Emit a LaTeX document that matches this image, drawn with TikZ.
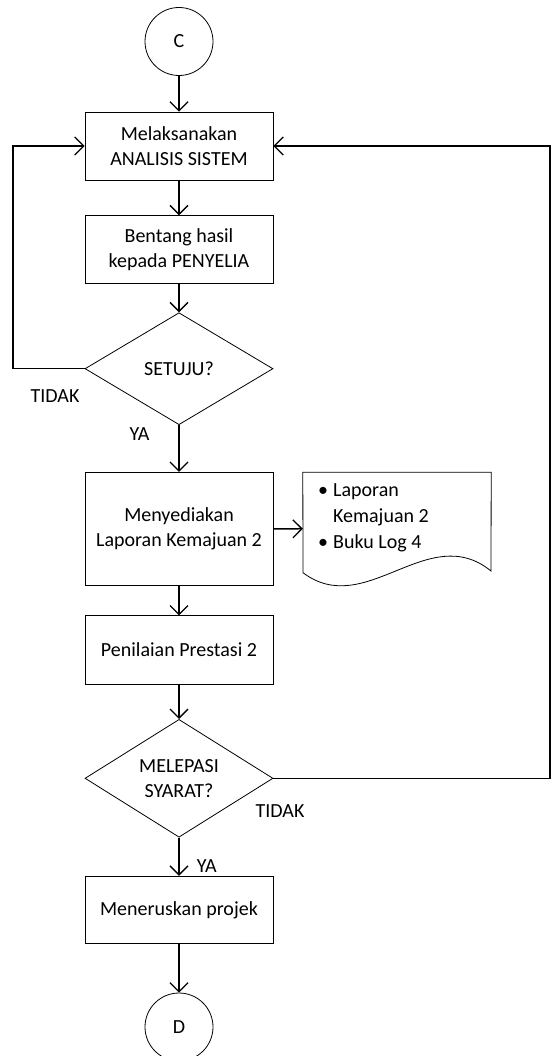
\documentclass[tikz,border=0pt]{standalone}
\usepackage{fontspec}
\setmainfont{Carlito}
\usetikzlibrary{shapes.geometric,arrows.meta}
\tikzset{
  base/.style={font=\fontsize{20pt}{25pt}\selectfont, text=black},
  proc/.style={base, draw=black, line width=0.8pt, rectangle, minimum width=188pt, align=center, inner sep=0pt},
  decide/.style={base, draw=black, line width=0.8pt, diamond, minimum width=188pt, minimum height=112pt, align=center, inner sep=0pt},
  conn/.style={base, draw=black, line width=0.8pt, circle, minimum size=68pt, inner sep=0pt},
  lbl/.style={base, inner sep=0pt},
  flow/.style={draw=black, line width=1.5pt, -{Straight Barb[length=9pt,width=18pt,line width=1.3pt]}},
  plain/.style={draw=black, line width=1.5pt}
}
\begin{document}
\begin{tikzpicture}[x=1pt,y=-1pt]
\useasboundingbox (0,0) rectangle (551,1056);
\clip (0,0) rectangle (551,1056);
% nodes
\node[conn] (c) at (179,41.5) {C};
\node[proc, minimum height=68pt] (b1) at (179,146) {Melaksanakan\\ANALISIS SISTEM};
\node[proc, minimum height=68pt] (b2) at (179,249.7) {Bentang hasil\\kepada PENYELIA};
\node[decide] (d1) at (179,368.7) {SETUJU?};
\node[proc, minimum height=113.4pt] (b3) at (179,529) {Menyediakan\\Laporan Kemajuan 2};
\node[minimum width=188pt, minimum height=112.7pt, inner sep=0pt] (doc) at (397,528.7) {};
\node[proc, minimum height=68.3pt] (b4) at (179,650) {Penilaian Prestasi 2};
\node[decide] (d2) at (179,778.3) {MELEPASI\\SYARAT?};
\node[proc, minimum height=67.7pt] (b5) at (179,910) {Meneruskan projek};
\node[conn] (dd) at (179,1027) {D};
% document shape
\draw[black, line width=0.8pt] (doc.north west) -- (doc.north east) -- (491,571)
  .. controls (428.3,520) and (365.7,620) .. (303,572.7) -- cycle;
\node[base, font=\fontsize{20pt}{26pt}\selectfont, anchor=north west, inner sep=0pt] (doctext) at (318,478)
  {\begin{tabular}{@{}l@{\hspace{5pt}}l@{}}\textbullet & Laporan\\ & Kemajuan 2\\ \textbullet & Buku Log 4\end{tabular}};
% labels
\node[lbl] (t1) at (55,395.7) {TIDAK};
\node[lbl] (y1) at (139.5,434.3) {YA};
\node[lbl] (t2) at (280,810.7) {TIDAK};
\node[lbl] (y2) at (206.7,866) {YA};
% coordinates for loops
\coordinate (L) at (13,146);
\coordinate (R) at (550,146);
% connectors
\draw[flow] (c.south) -- (b1.north);
\draw[flow] (b1.south) -- (b2.north);
\draw[flow] (b2.south) -- (d1.north);
\draw[flow] (d1.south) -- (b3.north);
\draw[flow] (b3.east) -- (doc.west);
\draw[flow] (b3.south) -- (b4.north);
\draw[flow] (b4.south) -- (d2.north);
\draw[flow] (d2.south) -- (b5.north);
\draw[flow] (b5.south) -- (dd.north);
\draw[flow] (d1.west) -| (L) -- (b1.west);
\draw[flow] (d2.east) -| (R) -- (b1.east);
\end{tikzpicture}
\end{document}
